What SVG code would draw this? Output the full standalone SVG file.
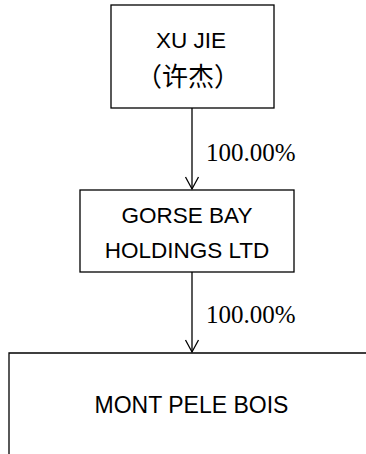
<svg xmlns="http://www.w3.org/2000/svg" width="366" height="454" viewBox="0 0 366 454">
<style>
.box{fill:#fff;stroke:#000;stroke-width:1.3}
.t{font-family:"Liberation Sans","Noto Sans CJK SC",sans-serif;font-size:22.5px;fill:#000;text-anchor:middle}
.cjk{font-family:"Noto Sans CJK SC",sans-serif;font-size:26px;fill:#000;text-anchor:middle}
.p{font-family:"Liberation Serif",serif;font-size:25px;fill:#000}
.c{stroke:#000;stroke-width:1.3;fill:none}
</style>
<rect width="366" height="454" fill="#fff"/>
<g id="xujie">
<rect class="box" x="111" y="5" width="163" height="103"/>
<text class="t" x="191" y="48">XU JIE</text>
<text class="cjk" x="188" y="86">（许杰）</text>
</g>
<g id="gorse">
<rect class="box" x="80" y="190" width="214" height="82"/>
<text class="t" x="187" y="223">GORSE BAY</text>
<text class="t" x="187" y="258">HOLDINGS LTD</text>
</g>
<g id="mont">
<path class="box" d="M9,454 V353 H370"/>
<text class="t" x="191.5" y="413" style="font-size:23px">MONT PELE BOIS</text>
</g>
<g id="connectors">
<line class="c" x1="192" y1="108" x2="192" y2="189"/>
<polyline class="c" points="185.5,177 192,189 198.5,177"/>
<text class="p" x="206" y="161">100.00%</text>
<line class="c" x1="192" y1="272" x2="192" y2="352"/>
<polyline class="c" points="185.5,340 192,352 198.5,340"/>
<text class="p" x="206" y="323">100.00%</text>
</g>
</svg>
